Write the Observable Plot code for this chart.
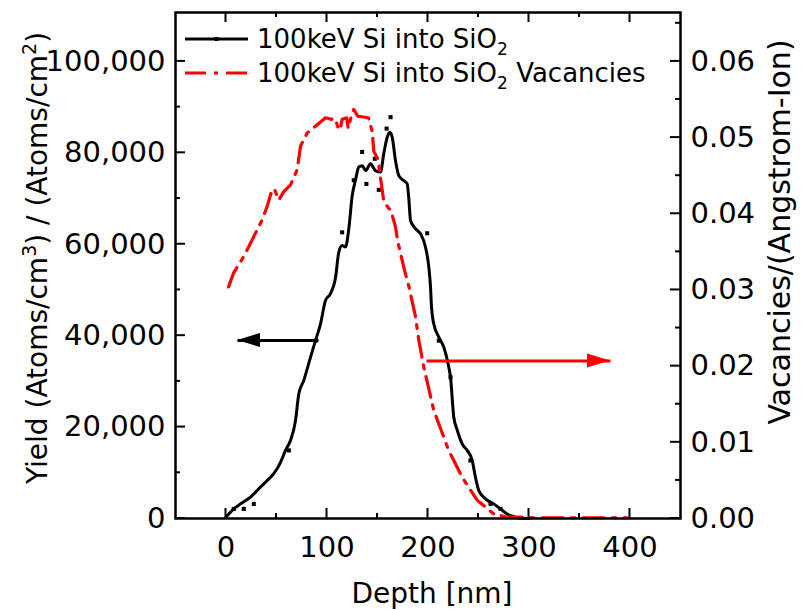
<!DOCTYPE html>
<html><head><meta charset="utf-8">
<script src="https://cdn.jsdelivr.net/npm/d3@7"></script>
<script src="https://cdn.jsdelivr.net/npm/@observablehq/plot@0.6"></script>
<style>body{margin:0;background:#fff}#chart{width:805px;height:610px}</style>
</head><body><div id="chart"></div>
<script>
// ---- data ----
const yieldDepth = [0, 7.7, 14.4, 24.3, 32.5, 40.8, 47.3, 54, 58.9, 63.9, 68.8, 72.1, 77, 83.7, 88.6, 93.6, 98.5, 103.5, 108.4, 111.7, 115, 118.3, 121.6, 125, 128.2, 131.5, 134.8, 138.4, 143, 148, 153, 156.2, 159.6, 162.2, 164.6, 167.8, 171.1, 175.5, 179.4, 181, 182.7, 187.6, 192.6, 197.5, 200.8, 202.5, 203.5, 205.7, 210.7, 215.6, 220.6, 222.3, 225.5, 229, 233.9, 238.8, 243.8, 247, 250.3, 257, 265, 271.8, 278.4, 285, 292, 300];
const yieldValues = [300, 2100, 3200, 4700, 6500, 8300, 9800, 12300, 14900, 17100, 21400, 27300, 30200, 35300, 38900, 42600, 47700, 49200, 52600, 58300, 59700, 59400, 63400, 70700, 74000, 76900, 77200, 76100, 77600, 76100, 75800, 79800, 83400, 84500, 83400, 78300, 75000, 74000, 73200, 70000, 65200, 63400, 62300, 59400, 55000, 50600, 46200, 42600, 39700, 37500, 33100, 30900, 22200, 19300, 16300, 14900, 12700, 9000, 6100, 4300, 3200, 2100, 1000, 400, 0, 0];
const rawDepth = [7.7, 17.6, 27.5, 62.2, 88.6, 115, 126.5, 134.8, 139, 147.3, 151.3, 159, 162.9, 199.2, 210.7, 222.3, 242, 261.9, 271.8];
const rawValues = [2100, 2100, 3200, 14900, 38900, 62600, 74000, 80200, 73200, 78700, 71900, 85300, 87800, 62400, 38900, 30900, 12700, 3200, 2100];
const vacDepth = [2.5, 7.4, 17.6, 27.5, 35.8, 40.8, 45.7, 48, 52.3, 57.2, 63.9, 70.5, 73.8, 80.4, 88.6, 98.5, 104, 108, 111, 113, 115, 119.5, 121, 124, 126.5, 130.5, 141, 144.8, 146.3, 150.7, 152, 154.6, 156.2, 163.5, 167.8, 170, 172.8, 176.7, 181, 187.6, 190.9, 195.8, 205.7, 220.6, 233.9, 248.7, 265, 278, 290, 300, 350, 397];
const vacValues = [0.0304, 0.0322, 0.0344, 0.0370, 0.0392, 0.0410, 0.0432, 0.0432, 0.0418, 0.0429, 0.0438, 0.0458, 0.0489, 0.0506, 0.0515, 0.0526, 0.0524, 0.0525, 0.0513, 0.0510, 0.0524, 0.0526, 0.0512, 0.0528, 0.0537, 0.0528, 0.0526, 0.0508, 0.0482, 0.0471, 0.0456, 0.0432, 0.0416, 0.0403, 0.0383, 0.0364, 0.0348, 0.0326, 0.0305, 0.0265, 0.0234, 0.0199, 0.0142, 0.0089, 0.0054, 0.0024, 0.0006, 0.0002, 0.0002, 0.0001, 0.0001, 0.0001];
const xTicks = [0, 100, 200, 300, 400];
const xMinorTicks = [50, 150, 250, 350];
const yLeftTicks = [0, 20000, 40000, 60000, 80000, 100000];
const yLeftMinorTicks = [10000, 30000, 50000, 70000, 90000];
const yRightTicks = [0, 0.01, 0.02, 0.03, 0.04, 0.05, 0.06];
const yRightMinorTicks = [0.005, 0.015, 0.025, 0.035, 0.045, 0.055, 0.065];
const seriesNames = ["100keV Si into SiO", "100keV Si into SiO"];
const seriesSuffix = ["", " Vacancies"];
const arrowLeft = {from: 91.6, to: 11.4, level: 38950};      // yield axis units
const arrowRight = {from: 198.5, to: 380.7, level: 0.02066}; // vacancy axis units

// ---- build ----
const K = 100000 / 0.06; // right-axis value -> left-axis units
const font = "DejaVu Sans";
const yieldData = yieldDepth.map((d, i) => ({depth: d, value: yieldValues[i]}));
const rawData = rawDepth.map((d, i) => ({depth: d, value: rawValues[i]}));
const vacData = vacDepth.map((d, i) => ({depth: d, value: vacValues[i]}));
const dash = "21,8,4,8";
const fs = 29;

const chart = Plot.plot({
  width: 805, height: 610,
  marginLeft: 175, marginRight: 125, marginTop: 12, marginBottom: 92,
  style: {fontFamily: font, fontSize: fs + "px", color: "black", background: "white", overflow: "visible"},
  x: {domain: [-50, 450], label: null},
  y: {domain: [0, 110700], label: null},
  marks: [
    Plot.line(yieldData, {x: "depth", y: "value", stroke: "black", strokeWidth: 3, curve: "monotone-x"}),
    Plot.dot(rawData, {x: "depth", y: "value", symbol: "square", r: 2.3, fill: "black", stroke: null}),
    Plot.line(vacData, {x: "depth", y: d => d.value * K, stroke: "#ff0000", strokeWidth: 3.2, strokeDasharray: dash}),
    Plot.link([arrowLeft], {x1: "from", x2: "to", y1: "level", y2: "level", stroke: "black", strokeWidth: 3}),
    Plot.link([arrowRight], {x1: "from", x2: "to", y1: d => d.level * K, y2: d => d.level * K, stroke: "#ff0000", strokeWidth: 3}),
    Plot.frame({stroke: "black", strokeWidth: 2.5}),
    Plot.axisX(xTicks, {anchor: "bottom", tickSize: 0, tickPadding: 18, fontSize: fs, label: null}),
    Plot.axisY(yLeftTicks, {anchor: "left", tickSize: 0, tickPadding: 10, fontSize: fs, tickFormat: d3.format(","), label: null}),
    Plot.axisY(yRightTicks.map(v => v * K), {anchor: "right", tickSize: 0, tickPadding: 10, fontSize: fs, tickFormat: d => (d / K).toFixed(2), label: null})
  ]
});
document.getElementById("chart").appendChild(chart);

const svg = d3.select(chart);
const sx = chart.scale("x").apply, sy = chart.scale("y").apply;
const [L, R] = chart.scale("x").range, [B, T] = chart.scale("y").range;

// inward ticks on all four sides
const tg = svg.append("g").attr("stroke", "black").attr("stroke-width", 2);
function xt(vals, len) {
  vals.forEach(v => {
    tg.append("line").attr("x1", sx(v)).attr("x2", sx(v)).attr("y1", B).attr("y2", B - len);
    tg.append("line").attr("x1", sx(v)).attr("x2", sx(v)).attr("y1", T).attr("y2", T + len);
  });
}
function yt(vals, len, side) {
  vals.forEach(v => {
    const x0 = side === "left" ? L : R, d = side === "left" ? len : -len;
    tg.append("line").attr("x1", x0).attr("x2", x0 + d).attr("y1", sy(v)).attr("y2", sy(v));
  });
}
xt(xTicks, 10); xt(xMinorTicks, 5);
yt(yLeftTicks, 10, "left"); yt(yLeftMinorTicks, 5, "left");
yt(yRightTicks.map(v => v * K), 10, "right"); yt(yRightMinorTicks.map(v => v * K), 5, "right");

// arrow heads
function head(tipX, yPix, dir, color) {
  const AL = 23, H = 7;
  svg.append("path")
    .attr("d", `M${tipX},${yPix}L${tipX - dir * AL},${yPix - H}L${tipX - dir * AL},${yPix + H}Z`)
    .attr("fill", color);
}
head(sx(arrowLeft.to), sy(arrowLeft.level), -1, "black");
head(sx(arrowRight.to), sy(arrowRight.level * K), 1, "#ff0000");

// legend
const lg = svg.append("g").attr("font-family", font).attr("font-size", 26).attr("fill", "black").attr("text-anchor", "start");
const rows = [{y: 39, color: "black", dash: null}, {y: 73, color: "#ff0000", dash: dash}];
rows.forEach((r, i) => {
  const ln = lg.append("line").attr("x1", 185).attr("x2", 248).attr("y1", r.y).attr("y2", r.y)
    .attr("stroke", r.color).attr("stroke-width", 3);
  if (r.dash) ln.attr("stroke-dasharray", dash);
  else lg.append("rect").attr("x", 214.5).attr("y", r.y - 2).attr("width", 4).attr("height", 4).attr("fill", "black");
  const t = lg.append("text").attr("x", 257).attr("y", r.y + 9);
  t.append("tspan").text(seriesNames[i]);
  t.append("tspan").attr("dy", 7).attr("font-size", 17).text("2");
  if (seriesSuffix[i]) t.append("tspan").attr("dy", -7).text(seriesSuffix[i]);
});

// axis titles
const tl = svg.append("text").attr("font-family", font).attr("font-size", 28).attr("text-anchor", "middle")
  .attr("transform", "translate(47,258) rotate(-90)");
tl.append("tspan").text("Yield (Atoms/cm");
tl.append("tspan").attr("dy", -11).attr("font-size", 19).text("3");
tl.append("tspan").attr("dy", 11).text(") / (Atoms/cm");
tl.append("tspan").attr("dy", -11).attr("font-size", 19).text("2");
tl.append("tspan").attr("dy", 11).text(")");

svg.append("text").attr("font-family", font).attr("font-size", 30).attr("text-anchor", "middle")
  .attr("transform", "translate(790,232) rotate(-90)").text("Vacancies/(Angstrom-Ion)");

svg.append("text").attr("font-family", font).attr("font-size", 28).attr("text-anchor", "middle")
  .attr("x", 432).attr("y", 603).text("Depth [nm]");
</script></body></html>
